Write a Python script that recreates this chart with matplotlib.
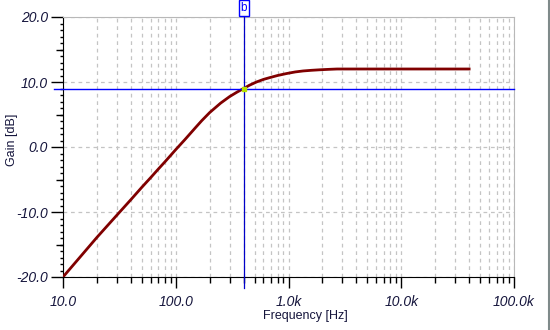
"""Gain vs frequency with cursor, recreated from a circuit simulator plot."""

import matplotlib
matplotlib.use("Agg")
import matplotlib.pyplot as plt
import matplotlib.ticker as mticker
from matplotlib.lines import Line2D

# data
freq_hz = [10, 20, 30, 40, 50, 60, 70, 80, 90, 100, 120, 150, 170, 200,
           250, 300, 350, 400, 450, 520, 600, 690, 800, 960, 1150, 1350,
           1600, 1900, 2300, 2700, 5000, 10000, 20000, 40000]
gain_db = [-20.0, -13.9, -10.5, -8.1, -6.2, -4.7, -3.4, -2.3, -1.3, -0.4,
           1.1, 3.0, 4.05, 5.3, 6.75, 7.75, 8.45, 9.0, 9.5, 10.0, 10.4, 10.7,
           11.0, 11.3, 11.55, 11.7, 11.8, 11.88, 11.95, 12.0, 12.0, 12.0,
           12.0, 12.0]
x_ticks = [10, 100, 1000, 10000, 100000]
x_ticklabels = ["10.0", "100.0", "1.0k", "10.0k", "100.0k"]
y_ticks = [-20, -10, 0, 10, 20]
y_ticklabels = ["-20.0", "-10.0", "0.0", "10.0", "20.0"]
cursor_f = 400
cursor_gain = 9.0
cursor_name = "b"

plt.rcParams["font.family"] = ["Liberation Sans", "DejaVu Sans"]
txt = "#15153c"
grid_c = "#c4c4c4"

fig = plt.figure(figsize=(5.5, 3.3), dpi=100)
ax = fig.add_axes([63 / 550, 1 - 277 / 330, 451 / 550, 260 / 330])

ax.set_xscale("log")
ax.set_xlim(10, 100000)
ax.set_ylim(-20, 20)

ax.set_xticks(x_ticks)
ax.set_xticklabels(x_ticklabels, fontstyle="italic", fontsize=10, color=txt)
ax.xaxis.set_minor_locator(mticker.LogLocator(base=10, subs=range(2, 10)))
ax.xaxis.set_minor_formatter(mticker.NullFormatter())
ax.set_yticks(y_ticks)
ax.set_yticklabels(y_ticklabels, fontstyle="italic", fontsize=10, color=txt)
ax.yaxis.set_minor_locator(mticker.MultipleLocator(1))

ax.tick_params(axis="x", which="major", length=8, width=1, pad=5)
ax.tick_params(axis="x", which="minor", length=4, width=1)
ax.tick_params(axis="y", which="major", length=9, width=1, pad=2)
ax.tick_params(axis="y", which="minor", length=2.5, width=1)

# medium ticks every 5 dB
sec = ax.secondary_yaxis("left")
sec.set_yticks([-15, -5, 5, 15])
sec.set_yticklabels([])
sec.tick_params(length=5, width=1)
sec.spines["left"].set_visible(False)

for side in ("top", "right"):
    ax.spines[side].set_color("#b8b8b8")
for side in ("left", "bottom"):
    ax.spines[side].set_color("black")

ax.grid(True, axis="x", which="both", color=grid_c, ls=(0, (3, 3)), lw=0.9)
ax.grid(True, axis="y", which="major", color=grid_c, ls=(0, (3, 3)), lw=0.9)
ax.set_axisbelow(True)

ax.plot(freq_hz, gain_db, color="#800000", lw=2, zorder=3)

# cursor lines
ax.axhline(cursor_gain, xmin=-0.02, xmax=1, color="#0000ff", lw=1,
           clip_on=False, zorder=4)
ax.axvline(cursor_f, ymin=-0.042, ymax=1.02, color="#0000c8", lw=0.9,
           clip_on=False, zorder=4)
ax.plot([cursor_f], [cursor_gain], marker="s", ms=2.5, color="#b8e000",
        mec="#b8e000", zorder=5)
ax.annotate(cursor_name, xy=(cursor_f, 1.0), xycoords=("data", "axes fraction"),
            xytext=(0, 2.2), textcoords="offset points",
            ha="center", va="bottom", fontsize=8.5, color="#0000ff",
            bbox=dict(boxstyle="square,pad=0.15", fc="white", ec="#0000ff", lw=1),
            annotation_clip=False, zorder=6)

ax.set_xlabel("Frequency [Hz]", fontsize=9, color=txt)
ax.xaxis.set_label_coords((305 - 63) / 451, -(316 - 277) / 260)
ax.xaxis.label.set_va("center")
ax.set_ylabel("Gain [dB]", fontsize=9, color=txt)
ax.yaxis.set_label_coords(-(63 - 12) / 451, (277 - 140) / 260)
ax.yaxis.label.set_va("center")

fig.add_artist(Line2D([548.5 / 550, 548.5 / 550], [0, 1], color="#7f8a8a", lw=1.5))

fig.savefig("out.png", dpi=100)
